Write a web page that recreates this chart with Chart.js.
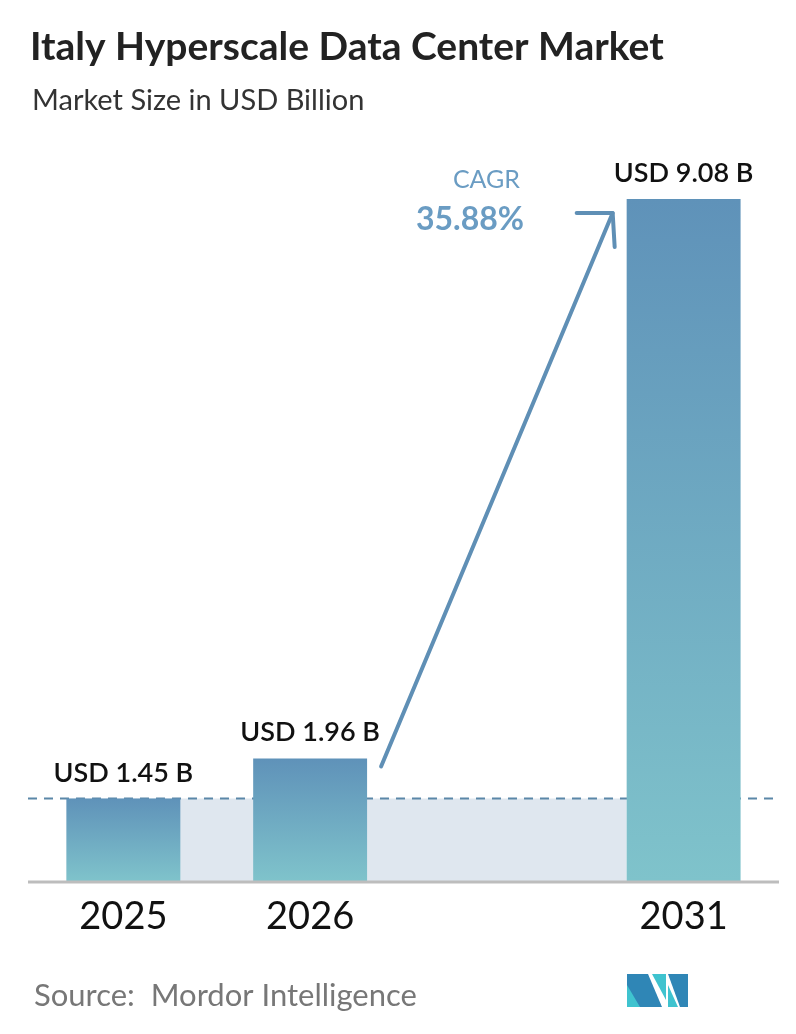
<!DOCTYPE html>
<html>
<head>
<meta charset="utf-8">
<script src="https://cdn.jsdelivr.net/npm/chart.js@4"></script>
<style>
  body { margin: 0; background: #fff; }
  #wrap { width: 796px; height: 1034px; }
</style>
</head>
<body>
<div id="wrap"><canvas id="myChart" width="796" height="1034"></canvas></div>
<script>
// data
var years = ['2025', '2026', '', '2031'];
var values = [1.45, 1.96, null, 9.08];
var valueLabels = ['USD 1.45 B', 'USD 1.96 B', '', 'USD 9.08 B'];
var cagrText = '35.88%';

var FONT = 'Lato, "Open Sans", sans-serif';

// text, reference band, arrow, logo
var decor = {
    id: 'decor',
    beforeDatasetsDraw: function (chart) {
        var c = chart.ctx, a = chart.chartArea;
        var y = chart.scales.y, meta = chart.getDatasetMeta(0);
        var refY = y.getPixelForValue(values[0]);
        var b0 = meta.data[0], b3 = meta.data[3];
        c.save();
        c.fillStyle = '#dfe7ef';
        c.fillRect(b0.x - b0.width / 2, refY, (b3.x - b3.width / 2) - (b0.x - b0.width / 2), a.bottom - refY);
        c.setLineDash([9, 7]);
        c.strokeStyle = '#5b87a8';
        c.lineWidth = 2;
        c.beginPath(); c.moveTo(a.left - 2, refY); c.lineTo(a.right + 2, refY); c.stroke();
        c.restore();
    },
    afterDatasetsDraw: function (chart) {
        var c = chart.ctx, a = chart.chartArea;
        var meta = chart.getDatasetMeta(0);
        c.save();
        // baseline
        c.strokeStyle = '#bdbdbd'; c.lineWidth = 3;
        c.beginPath(); c.moveTo(a.left - 2, a.bottom + 1); c.lineTo(a.right + 2, a.bottom + 1); c.stroke();
        // labels
        c.textAlign = 'center';
        meta.data.forEach(function (bar, i) {
            if (values[i] == null) return;
            c.fillStyle = '#111';
            c.font = '600 27px ' + FONT;
            c.textBaseline = 'alphabetic';
            c.fillText(valueLabels[i], bar.x, bar.y - 17);
            c.font = '38px ' + FONT;
            c.fillText(years[i], bar.x, a.bottom + 48);
        });
        // arrow
        var b1 = meta.data[1], b3 = meta.data[3];
        var x0 = b1.x + b1.width / 2 + 14, y0 = b1.y + 8;
        var x1 = b3.x - b3.width / 2 - 14, y1 = b3.y + 14;
        c.strokeStyle = '#5f8fb5'; c.lineWidth = 4; c.lineCap = 'round'; c.lineJoin = 'round';
        c.beginPath(); c.moveTo(x0, y0); c.lineTo(x1, y1); c.stroke();
        c.beginPath(); c.moveTo(x1 - 36, y1); c.lineTo(x1, y1); c.lineTo(x1 + 2, y1 + 34); c.stroke();
        // CAGR
        c.fillStyle = '#6a9cc3'; c.textAlign = 'right';
        c.font = '25px ' + FONT;
        c.fillText('CAGR', 520, 188);
        c.font = 'bold 32px ' + FONT;
        c.fillText(cagrText, 524, 230);
        // titles
        c.textAlign = 'left';
        c.fillStyle = '#222';
        c.font = 'bold 39px ' + FONT;
        c.fillText('Italy Hyperscale Data Center Market', 30, 60);
        c.fillStyle = '#333';
        c.font = '29px ' + FONT;
        c.fillText('Market Size in USD Billion', 32, 110);
        c.fillStyle = '#777';
        c.font = '31px ' + FONT;
        c.fillText('Source:  Mordor Intelligence', 34, 1006);
        // logo
        c.fillStyle = '#2f86b6';
        c.beginPath(); c.moveTo(627, 1007); c.lineTo(627, 974); c.lineTo(648, 974); c.lineTo(662, 1007); c.closePath(); c.fill();
        c.fillStyle = '#3fc3cf';
        c.beginPath(); c.moveTo(627, 985); c.lineTo(627, 1007); c.lineTo(640, 1007); c.closePath(); c.fill();
        c.beginPath(); c.moveTo(652, 974); c.lineTo(666, 974); c.lineTo(666, 1000); c.closePath(); c.fill();
        c.fillStyle = '#2f86b6';
        c.beginPath(); c.moveTo(668, 974); c.lineTo(688, 974); c.lineTo(688, 1007); c.lineTo(680, 1007); c.closePath(); c.fill();
        c.fillStyle = '#3fc3cf';
        c.beginPath(); c.moveTo(668, 985); c.lineTo(678, 1007); c.lineTo(668, 1007); c.closePath(); c.fill();
        c.restore();
    }
};

var ctx = document.getElementById('myChart').getContext('2d');
var myChart = new Chart(ctx, {
    type: 'bar',
    data: {
        labels: years,
        datasets: [{
            data: values,
            backgroundColor: function (context) {
                var chart = context.chart, a = chart.chartArea;
                if (!a || context.raw == null) return '#6a9fc0';
                var top = chart.scales.y.getPixelForValue(context.raw);
                var g = chart.ctx.createLinearGradient(0, top, 0, a.bottom);
                g.addColorStop(0, '#5f92b9');
                g.addColorStop(1, '#7fc3cb');
                return g;
            },
            categoryPercentage: 1,
            barPercentage: 0.61
        }]
    },
    options: {
        responsive: false,
        animation: false,
        layout: { padding: { left: 30, right: 19, top: 199, bottom: 153 } },
        plugins: { legend: { display: false }, tooltip: { enabled: false } },
        scales: {
            x: { display: false },
            y: { display: false, min: 0.4, max: 9.08 }
        }
    },
    plugins: [decor]
});
</script>
</body>
</html>
